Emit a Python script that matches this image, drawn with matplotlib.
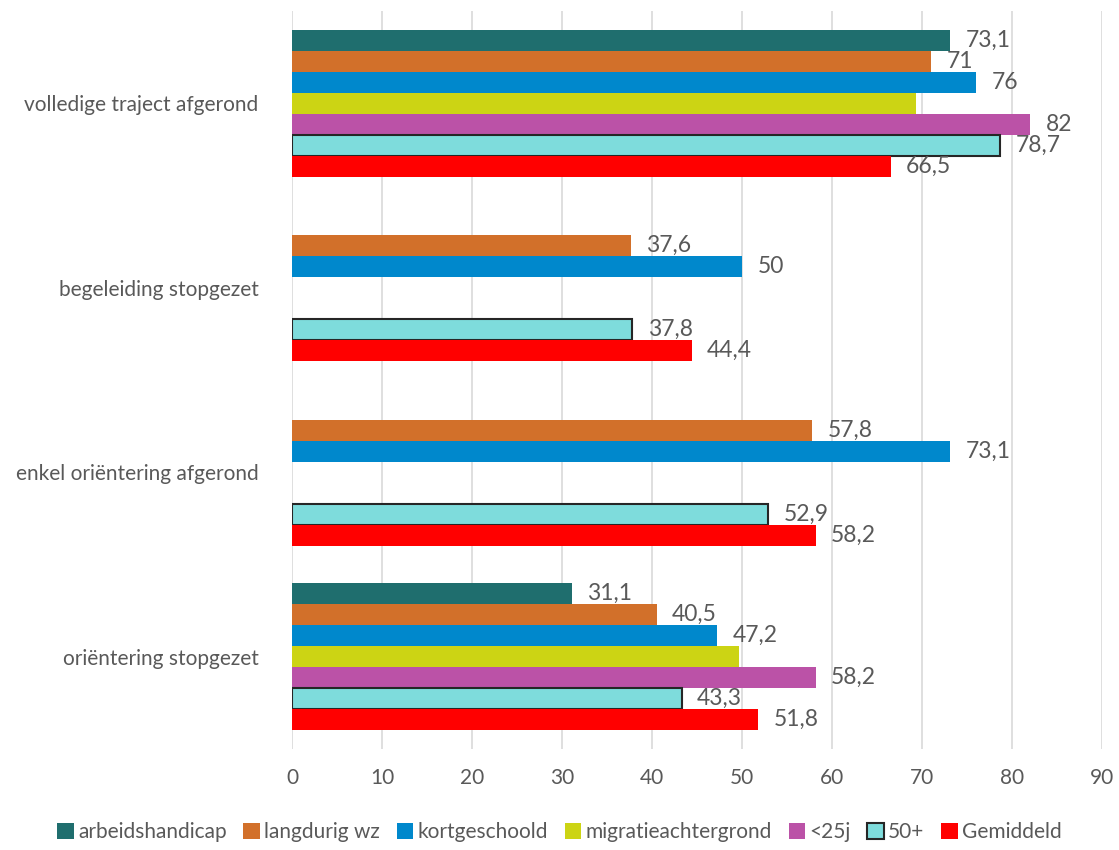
import matplotlib.pyplot as plt
import numpy as np

plt.rcParams['font.family'] = ['Lato', 'DejaVu Sans']

# Data
categories = ["volledige traject afgerond", "begeleiding stopgezet",
              "enkel oriëntering afgerond", "oriëntering stopgezet"]
series = ["arbeidshandicap", "langdurig wz", "kortgeschoold",
          "migratieachtergrond", "<25j", "50+", "Gemiddeld"]
nan = np.nan
arbeidshandicap = [73.1, nan, nan, 31.1]
langdurig_wz = [71, 37.6, 57.8, 40.5]
kortgeschoold = [76, 50, 73.1, 47.2]
migratieachtergrond = [69.3, nan, nan, 49.6]
jonger_25 = [82, nan, nan, 58.2]
ouder_50 = [78.7, 37.8, 52.9, 43.3]
gemiddeld = [66.5, 44.4, 58.2, 51.8]
values = [arbeidshandicap, langdurig_wz, kortgeschoold, migratieachtergrond,
          jonger_25, ouder_50, gemiddeld]
show_labels = [True, True, True, False, True, True, True]  # migratie has no labels

colors = ["#1F6E6E", "#D2702A", "#0088CC", "#CCD414", "#BB52A7", "#7EDCDC", "#FF0000"]
edges = [None, None, None, None, None, "#262626", None]

fig = plt.figure(figsize=(11.19, 8.5), dpi=100)
ax = fig.add_axes([0.261, 0.119, 0.724, 0.868])

bar_h = 0.1137
y = np.arange(len(categories))
n = len(series)
for i, (name, vals) in enumerate(zip(series, values)):
    pos = y - (n - 1) / 2 * bar_h + i * bar_h
    vals = np.array(vals, dtype=float)
    kw = dict(edgecolor=edges[i], linewidth=1.5) if edges[i] else dict(linewidth=0)
    ax.barh(pos, vals, height=bar_h, color=colors[i], label=name, zorder=3, **kw)
    if show_labels[i]:
        for p, v in zip(pos, vals):
            if not np.isnan(v):
                ax.text(v + 1.7, p, f"{v:g}".replace(".", ","), va="center",
                        ha="left", fontsize=16.5, color="#595959", zorder=4)

ax.set_ylim(len(categories) - 0.5, -0.5)
ax.set_xlim(0, 90)
ax.set_xticks(np.arange(0, 91, 10))
ax.set_yticks(y)
ax.set_yticklabels(categories)
ax.tick_params(axis="x", length=0, pad=14, labelsize=15, labelcolor="#595959")
ax.tick_params(axis="y", length=0, pad=24, labelsize=15, labelcolor="#595959")
ax.grid(axis="x", color="#D9D9D9", linewidth=1.2, zorder=0)
for s in ax.spines.values():
    s.set_visible(False)

handles, labels = ax.get_legend_handles_labels()
fig.legend(handles, labels, loc="center", bbox_to_anchor=(0.5, 0.021), ncol=7,
           frameon=False, fontsize=15, labelcolor="#595959", handlelength=0.8,
           handleheight=0.8, handletextpad=0.2, columnspacing=0.8)

fig.savefig("out.png", dpi=100)
